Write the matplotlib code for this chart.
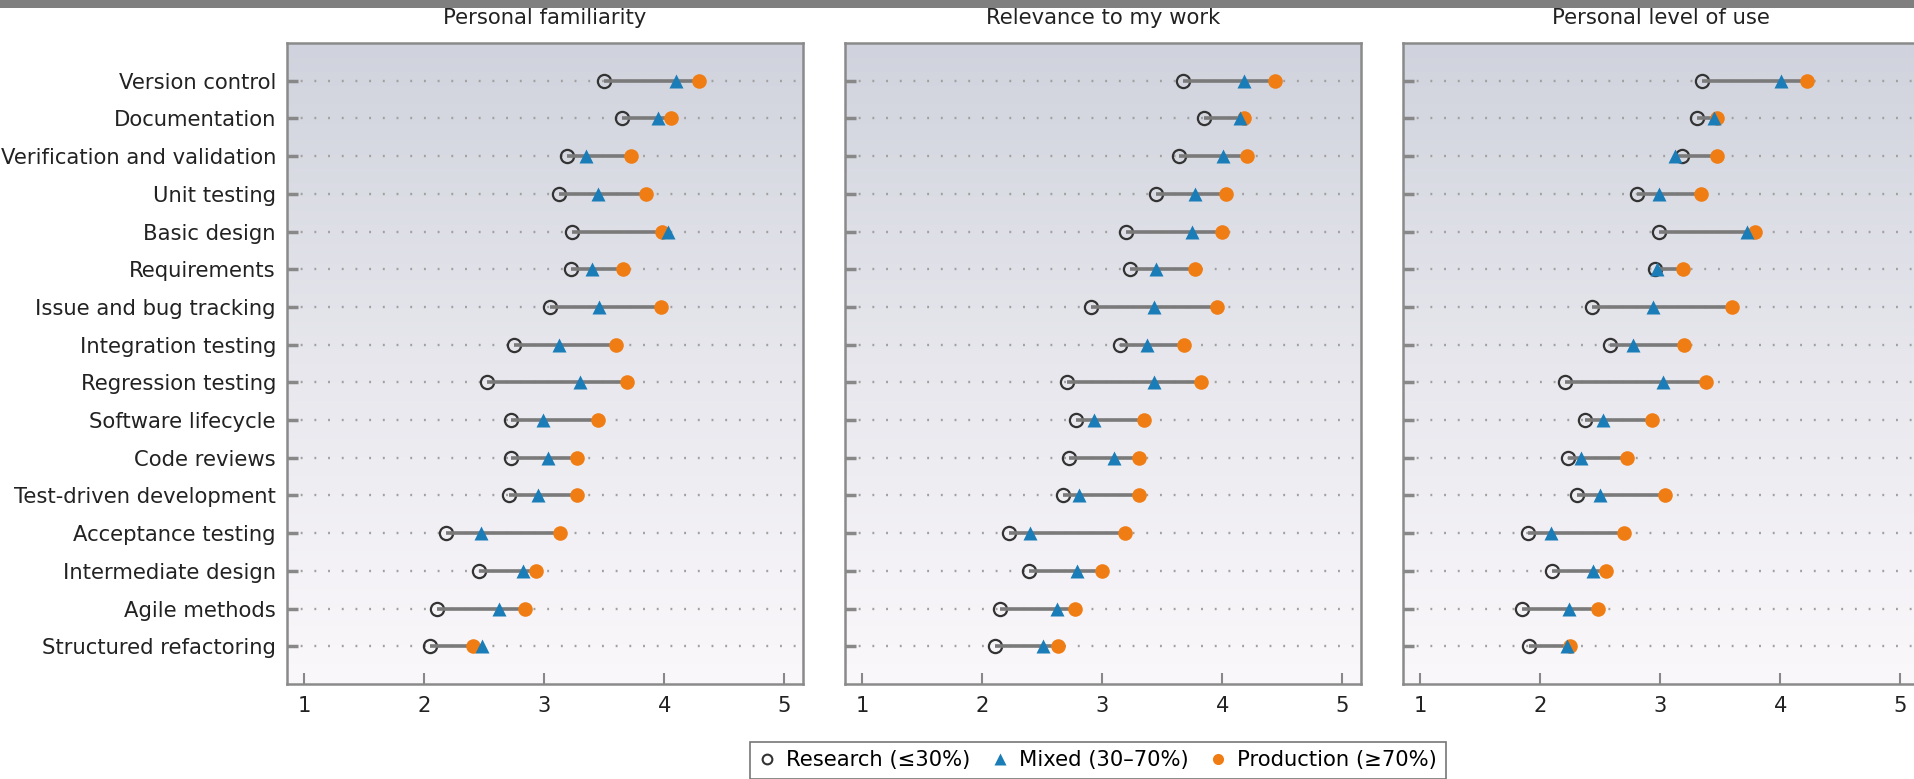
import matplotlib
matplotlib.use("Agg")
import matplotlib.pyplot as plt
from matplotlib.lines import Line2D
from matplotlib.patches import Rectangle
from matplotlib.colors import LinearSegmentedColormap
import numpy as np

plt.rcParams["font.family"] = ["DejaVu Sans"]

practices = [
    "Version control", "Documentation", "Verification and validation",
    "Unit testing", "Basic design", "Requirements", "Issue and bug tracking",
    "Integration testing", "Regression testing", "Software lifecycle",
    "Code reviews", "Test-driven development", "Acceptance testing",
    "Intermediate design", "Agile methods", "Structured refactoring",
]

panel_titles = ["Personal familiarity", "Relevance to my work", "Personal level of use"]

# Personal familiarity
fam_research = [3.50, 3.65, 3.19, 3.12, 3.23, 3.22, 3.05, 2.75, 2.52, 2.72, 2.72, 2.71, 2.18, 2.46, 2.11, 2.05]
fam_mixed = [4.10, 3.95, 3.35, 3.45, 4.03, 3.40, 3.46, 3.12, 3.30, 2.99, 3.03, 2.95, 2.47, 2.82, 2.62, 2.48]
fam_production = [4.29, 4.06, 3.72, 3.85, 3.98, 3.66, 3.97, 3.60, 3.69, 3.45, 3.27, 3.27, 3.13, 2.93, 2.84, 2.41]

# Relevance to my work
rel_research = [3.67, 3.85, 3.64, 3.45, 3.20, 3.23, 2.91, 3.15, 2.71, 2.78, 2.72, 2.67, 2.22, 2.39, 2.15, 2.11]
rel_mixed = [4.18, 4.15, 4.01, 3.77, 3.75, 3.45, 3.43, 3.37, 3.43, 2.93, 3.10, 2.81, 2.40, 2.79, 2.62, 2.51]
rel_production = [4.44, 4.18, 4.21, 4.03, 4.00, 3.77, 3.96, 3.68, 3.82, 3.35, 3.31, 3.31, 3.19, 3.00, 2.77, 2.63]

# Personal level of use
use_research = [3.35, 3.31, 3.18, 2.81, 2.99, 2.96, 2.43, 2.58, 2.21, 2.37, 2.23, 2.31, 1.90, 2.10, 1.85, 1.91]
use_mixed = [4.01, 3.45, 3.12, 2.99, 3.72, 2.97, 2.94, 2.77, 3.02, 2.52, 2.34, 2.50, 2.09, 2.44, 2.24, 2.22]
use_production = [4.22, 3.47, 3.47, 3.34, 3.79, 3.19, 3.60, 3.20, 3.38, 2.93, 2.72, 3.04, 2.70, 2.55, 2.48, 2.25]

panels = [
    (fam_research, fam_mixed, fam_production),
    (rel_research, rel_mixed, rel_production),
    (use_research, use_mixed, use_production),
]

W, H = 1915, 779
fig = plt.figure(figsize=(W / 100, H / 100), dpi=100)

# thin grey strip along the top edge
fig.patches.append(Rectangle((0, 1 - 8 / H), 1, 8 / H, transform=fig.transFigure,
                             facecolor="#7f7f7f", edgecolor="none"))

# first row of the image sits at the top of each (inverted) panel
bg = LinearSegmentedColormap.from_list("bg", ["#d0d3dd", "#e7e7ed", "#fbf8fb"])
grad = np.linspace(0, 1, 256).reshape(-1, 1)

blue = "#1a7db8"
orange = "#f07d14"
edge = "#333333"
fs = 15.2

lefts = [287, 845, 1403]
ax_w, ax_top, ax_bot = 516, 43, 684
y = np.arange(1, len(practices) + 1)

for i, (research, mixed, production) in enumerate(panels):
    ax = fig.add_axes([lefts[i] / W, (H - ax_bot) / H, ax_w / W, (ax_bot - ax_top) / H])
    xlo, xhi = 0.857, 5.157
    ax.imshow(grad, extent=[xlo, xhi, 0, 17], origin="lower", aspect="auto",
              cmap=bg, zorder=0)
    ax.set_xlim(xlo, xhi)
    ax.set_ylim(17, 0)

    for yy in y:
        ax.plot([xlo, xhi], [yy, yy], color="#a0a0a0", lw=1.7,
                linestyle=(0, (0.8, 5)), zorder=1)

    lo = np.minimum(np.minimum(research, mixed), production)
    hi = np.maximum(np.maximum(research, mixed), production)
    ax.hlines(y, lo, hi, color="#7a7a7a", lw=2.6, zorder=3)
    ax.plot(research, y, "o", ms=9.5, mfc="none", mec=edge, mew=1.6, zorder=2)
    ax.plot(production, y, "o", ms=10.5, mfc=orange, mec="none", zorder=4)
    ax.plot(mixed, y, "^", ms=10, mfc=blue, mec="none", zorder=5)

    ax.set_xticks([1, 2, 3, 4, 5])
    ax.set_yticks(y)
    if i == 0:
        ax.set_yticklabels(practices)
    else:
        ax.set_yticklabels([])
    ax.tick_params(axis="both", direction="in", color="#888888", labelsize=fs,
                   labelcolor="#222222")
    ax.tick_params(axis="x", length=8, width=1.5, pad=9)
    ax.tick_params(axis="y", length=8, width=2.5, pad=8)
    for sp in ax.spines.values():
        sp.set_color("#8a8a8a")
        sp.set_linewidth(1.8)

    fig.text((lefts[i] + ax_w / 2) / W, 1 - 18 / H, panel_titles[i],
             ha="center", va="center", fontsize=fs, color="#222222")

handles = [
    Line2D([0], [0], marker="o", ls="none", ms=7, mfc="none", mec=edge, mew=1.5),
    Line2D([0], [0], marker="^", ls="none", ms=8, mfc=blue, mec="none"),
    Line2D([0], [0], marker="o", ls="none", ms=8, mfc=orange, mec="none"),
]
labels = ["Research (\u226430%)", "Mixed (30\u201370%)", "Production (\u226570%)"]
leg = fig.legend(handles, labels, loc="upper center", bbox_to_anchor=(1098 / W, 1 - 742 / H),
                 ncol=3, fontsize=fs, frameon=True, fancybox=False, handlelength=0.8,
                 handletextpad=0.5, columnspacing=1.0, borderpad=0.4, borderaxespad=0)
leg.get_frame().set_edgecolor("#555555")
leg.get_frame().set_linewidth(1.2)

fig.savefig("out.png", dpi=100)
